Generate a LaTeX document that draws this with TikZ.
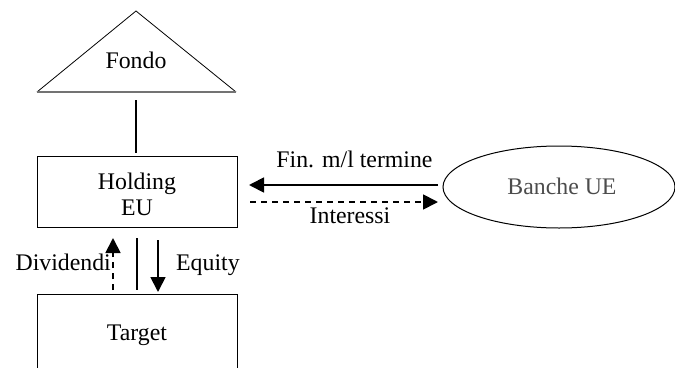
\documentclass[tikz,border=0pt]{standalone}
\usepackage{fontspec}
\setmainfont{Liberation Serif}
\usetikzlibrary{arrows.meta,shapes.geometric}
\begin{document}
\begin{tikzpicture}[x=1pt,y=-1pt,
  every node/.style={font=\fontsize{23.8}{26}\selectfont},
  boxshape/.style={draw,line width=1pt,rectangle,minimum width=200pt,inner sep=0pt},
  conn/.style={line width=1.8pt},
  arr/.style={conn,-{Triangle[length=15pt,width=15pt]}},
  dsh/.style={dash pattern=on 6pt off 5pt}]
\useasboundingbox (0,0) rectangle (675,367);
\clip (0,0) rectangle (675,367);
% Fondo triangle
\coordinate (apex) at (136,11);
\coordinate (bl) at (37,92);
\coordinate (br) at (236,92);
\draw[line width=0.8pt] (bl) -- (apex) -- (br);
\draw[line width=1.6pt,black!55] (bl) -- (br);
\node[anchor=base] (fondo) at (136,68) {Fondo};
% Holding
\node[boxshape,minimum height=71pt] (holding) at (137,191.5) {};
\node[anchor=base] (hold1) at (137,189) {Holding};
\node[anchor=base] (hold2) at (137,215) {EU};
% Target
\node[boxshape,minimum height=90pt] (target) at (137,339) {};
\node[anchor=base] (targett) at (137,340) {Target};
% Banche
\node[draw,ellipse,line width=1pt,minimum width=232pt,minimum height=82pt,text=black!70] (banche) at (559,187) {};
\node[anchor=base,text=black!70] (banchet) at (562,194) {Banche UE};
% Fondo - Holding
\coordinate (f1) at (136,100);
\coordinate (f2) at (136,153);
\draw[conn] (f1) -- (f2);
% Holding - Target
\coordinate (d1) at (113,290);
\coordinate (d2) at (113,238);
\draw[arr,dsh] (d1) -- (d2);
\coordinate (s1) at (137,238);
\coordinate (s2) at (137,290);
\draw[conn] (s1) -- (s2);
\coordinate (e1) at (158,240);
\coordinate (e2) at (158,292);
\draw[arr] (e1) -- (e2);
\node[anchor=base east,inner sep=0pt] (div) at (111,270) {Dividendi};
\node[anchor=base west,inner sep=0pt] (eq) at (176,270) {Equity};
% Holding - Banche
\coordinate (h1) at (438,185);
\coordinate (h2) at (249,185);
\draw[arr] (h1) -- (h2);
\coordinate (i1) at (250,202);
\coordinate (i2) at (438,202);
\draw[arr,dsh] (i1) -- (i2);
\node[anchor=base] (fin) at (354.5,167) {Fin. m/l termine};
\node[anchor=base] (int) at (350,223) {Interessi};
\end{tikzpicture}
\end{document}
